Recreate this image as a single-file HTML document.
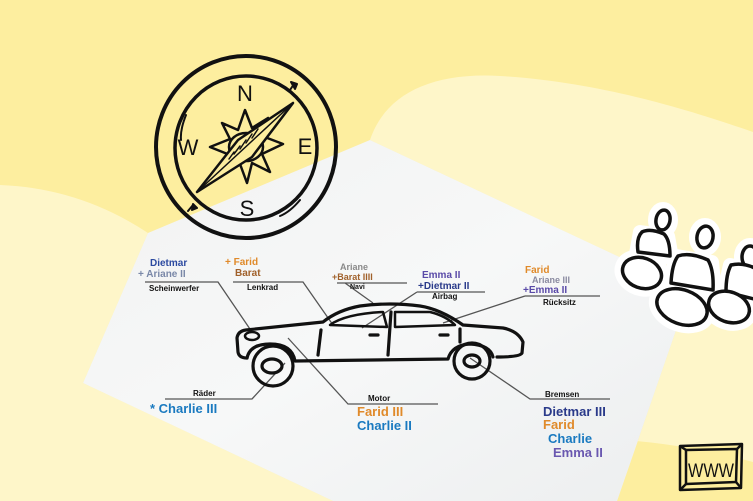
<!DOCTYPE html>
<html><head><meta charset="utf-8"><style>
html,body{margin:0;padding:0;width:753px;height:501px;overflow:hidden;background:#fdee9f}
svg{display:block}
text{font-family:"Liberation Sans",sans-serif;font-weight:bold}
</style></head><body>
<svg width="753" height="501" viewBox="0 0 753 501" xmlns="http://www.w3.org/2000/svg">
<defs>
<linearGradient id="pg" x1="0" y1="0" x2="1" y2="1">
<stop offset="0" stop-color="#f1f2f2"/><stop offset="0.5" stop-color="#f7f8f8"/><stop offset="1" stop-color="#eceeef"/>
</linearGradient>
</defs>
<rect width="753" height="501" fill="#fdee9f"/>
<!-- cream blobs -->
<path d="M0,185 Q80,188 148,233 L83,383 L333,501 L0,501 Z" fill="#fef6c9"/>
<path d="M370,140 C385,95 430,72 500,76 C600,82 690,110 753,132 L753,462 Q690,445 625,440 L617,501 L690,290 Z" fill="#fef6c9"/>
<!-- paper -->
<path d="M370,140 L690,290 L617,501 L333,501 L83,383 L148,233 Z" fill="url(#pg)"/>

<!-- compass -->
<g fill="none" stroke="#111" stroke-linecap="round" stroke-linejoin="round">
<ellipse cx="246" cy="147" rx="90" ry="91" stroke-width="4"/>
<ellipse cx="246" cy="148" rx="71" ry="72" stroke-width="3.5"/>
<path d="M186,115 Q180,130 181,140 M300,200 Q290,212 280,216 M290,90 l4,-6 M193,205 l-5,6" stroke-width="2"/>
<path d="M291,82 l6,2 -2,5z M197,208 l-5,2 1,-6z" fill="#111" stroke-width="2"/>
<polygon points="245,110 252,128 268,118 262,136 283,144 262,154 270,172 252,163 247,183 240,164 222,172 230,155 210,147 230,139 222,123 238,130" stroke-width="2.5"/>
<ellipse cx="246" cy="147" rx="17" ry="14" stroke-width="2.5"/>
<polygon points="197,192 238,140 293,103 252,157" fill="#fdee9f" stroke-width="2.5"/>
<path d="M197,192 L293,103" stroke-width="1.5"/>
<path d="M240,146 l-6,8 M246,140 l-6,9 M252,134 l-6,9 M258,129 l-6,9 M234,152 l-5,7" stroke-width="1.5"/>
</g>
<g font-family="Liberation Sans" font-weight="normal" fill="#111" font-size="22" text-anchor="middle" style="font-weight:normal">
<text x="245" y="101" style="font-weight:normal">N</text>
<text x="188" y="155" style="font-weight:normal">W</text>
<text x="305" y="154" style="font-weight:normal">E</text>
<text x="247" y="216" style="font-weight:normal">S</text>
</g>

<!-- people sticker -->
<g stroke-linejoin="round">
<g fill="#fff" stroke="#fff" stroke-width="14">
<ellipse cx="663" cy="220" rx="8" ry="11"/><path d="M640,232 L668,236 L672,258 L636,254 Z"/>
<ellipse cx="642" cy="273" rx="21" ry="16" transform="rotate(20 642 273)"/>
<ellipse cx="705" cy="237" rx="9" ry="12"/><path d="M676,256 L712,262 L715,292 L670,284 Z"/>
<ellipse cx="682" cy="307" rx="27" ry="18" transform="rotate(20 682 307)"/>
<ellipse cx="750" cy="257" rx="9" ry="12"/><path d="M730,265 L760,270 L760,300 L724,292 Z"/>
<ellipse cx="729" cy="307" rx="22" ry="16" transform="rotate(20 729 307)"/>
</g>
<g fill="#fff" stroke="#111" stroke-width="3.5">
<ellipse cx="663" cy="220" rx="7" ry="10" transform="rotate(10 663 220)"/>
<path d="M642,232 Q650,228 664,234 Q670,240 670,256 L638,252 Q636,238 642,232 Z"/>
<ellipse cx="642" cy="273" rx="20" ry="15" transform="rotate(20 642 273)"/>
<ellipse cx="705" cy="237" rx="8" ry="11" transform="rotate(10 705 237)"/>
<path d="M678,256 Q690,252 708,260 Q714,270 713,290 L671,283 Q672,264 678,256 Z"/>
<ellipse cx="682" cy="307" rx="26" ry="17" transform="rotate(20 682 307)"/>
<ellipse cx="750" cy="257" rx="8" ry="11"/>
<path d="M731,265 Q745,262 758,270 L758,300 L726,292 Q726,274 731,265 Z"/>
<ellipse cx="729" cy="307" rx="21" ry="15" transform="rotate(20 729 307)"/>
</g>
</g>

<!-- WWW box -->
<g fill="none" stroke="#111" stroke-width="2.5" stroke-linejoin="round">
<path d="M680,446 L742,444 L741,488 L680,490 Z" fill="#fdee9f"/>
<path d="M686,450 L737,449 L736,482 L686,484 Z"/>
<path d="M680,490 L686,484 M741,488 L736,482 M742,444 L737,449 M680,446 L686,450"/>
</g>
<text x="711" y="477" font-size="19" text-anchor="middle" fill="#111" style="font-weight:normal" textLength="46" lengthAdjust="spacingAndGlyphs">WWW</text>

<!-- leader lines -->
<g stroke="#555" stroke-width="1.3" fill="none">
<path d="M145,282 L218,282 L252,332"/>
<path d="M233,282 L303,282 L333,325"/>
<path d="M337,283 L407,283 M345,283 L373,303"/>
<path d="M417,292 L485,292 M417,292 L362,328"/>
<path d="M525,296 L600,296 M525,296 L443,323"/>
<path d="M165,399 L252,399 L285,363"/>
<path d="M438,404 L348,404 L288,338"/>
<path d="M610,399 L530,399 L470,358"/>
</g>

<!-- car -->
<g fill="none" stroke="#111" stroke-width="3.2" stroke-linecap="round" stroke-linejoin="round">
<path d="M247,358 Q239,358 238,352 L237,338 Q238,331 246,330 L323,322 Q338,310 360,306 Q390,302 420,306 Q440,309 463,325 L503,328 Q518,331 523,342 L522,353 Q520,357 497,357"/>
<path d="M247,358 Q250,344 270,344 Q292,344 295,361 L448,359 Q452,345 470,344 Q490,345 493,357"/>
<circle cx="273" cy="366" r="20"/>
<ellipse cx="272" cy="366" rx="10" ry="7"/>
<circle cx="472" cy="361" r="18"/>
<ellipse cx="472" cy="361" rx="8" ry="6"/>
<path d="M330,325 Q345,314 383,312 L387,327 Z" stroke-width="2.5"/>
<path d="M395,312 L430,312 Q446,316 455,325 L395,327 Z" stroke-width="2.5"/>
<path d="M391,312 L388,355 M321,330 L318,355 M460,329 L460,342"/>
<path d="M370,335 L378,335 M440,335 L448,335"/>
<ellipse cx="252" cy="336" rx="7" ry="4" stroke-width="2.5"/>
</g>

<!-- labels -->
<g font-size="8" fill="#111">
<text x="149" y="291">Scheinwerfer</text>
<text x="247" y="290">Lenkrad</text>
<text x="350" y="289" font-size="7">Navi</text>
<text x="432" y="299">Airbag</text>
<text x="543" y="305">Rücksitz</text>
<text x="193" y="396">Räder</text>
<text x="368" y="401">Motor</text>
<text x="545" y="397">Bremsen</text>
</g>
<g font-size="10">
<text x="150" y="266" fill="#2c4aa0">Dietmar</text>
<text x="138" y="277" fill="#7a88a8">+ Ariane II</text>
<text x="225" y="265" fill="#e08a2a">+ Farid</text>
<text x="235" y="276" fill="#a0602a">Barat</text>
<text x="340" y="270" fill="#8a8a8a" font-size="9">Ariane</text>
<text x="332" y="280" fill="#a0602a" font-size="9">+Barat IIII</text>
<text x="422" y="278" fill="#5a4aa8">Emma II</text>
<text x="418" y="289" fill="#2a3a8a">+Dietmar II</text>
<text x="525" y="273" fill="#e08a2a">Farid</text>
<text x="532" y="283" fill="#8a8aa0" font-size="9">Ariane III</text>
<text x="523" y="293" fill="#5a4aa8">+Emma II</text>
</g>
<g font-size="13">
<text x="150" y="413" fill="#1a7ac0">* Charlie III</text>
<text x="357" y="416" fill="#e08a2a">Farid III</text>
<text x="357" y="430" fill="#1a7ac0">Charlie II</text>
<text x="543" y="416" fill="#2a3a8a">Dietmar III</text>
<text x="543" y="429" fill="#e08a2a">Farid</text>
<text x="548" y="443" fill="#1a7ac0">Charlie</text>
<text x="553" y="457" fill="#6a58b0">Emma II</text>
</g>
</svg>
</body></html>
